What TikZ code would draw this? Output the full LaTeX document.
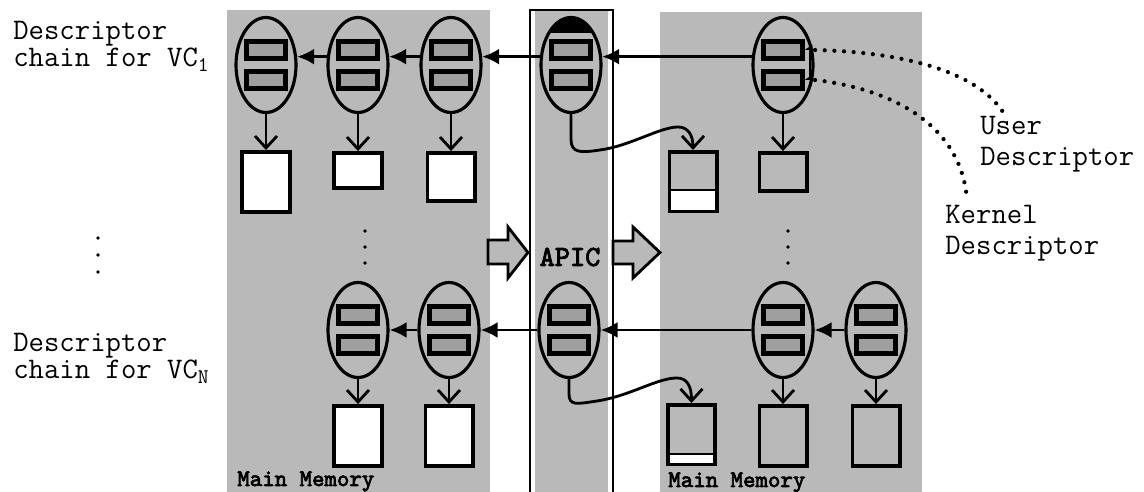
\documentclass[tikz,border=0pt]{standalone}
\usepackage{fontspec}
\newfontfamily\heavymono{lmmono10-regular.otf}[FakeBold=3]
\usetikzlibrary{shapes.geometric,arrows.meta,positioning}

\tikzset{
    panel/.style={fill=gray!55},
    desc/.style={ellipse,draw,line width=1.8pt,minimum width=1.2cm,minimum height=1.9cm,inner sep=0pt},
    slot/.style={draw,line width=2.3pt,fill=gray!75,minimum width=0.78cm,minimum height=0.34cm,inner sep=0pt},
    buf/.style={draw,line width=2pt,minimum width=0.95cm,inner sep=0pt,anchor=north},
    split/.style={path picture={
        \fill[white] (path picture bounding box.south west) rectangle ([yshift=#1]path picture bounding box.south east);
        \draw[line width=1pt] ([yshift=#1]path picture bounding box.south west) -- ([yshift=#1]path picture bounding box.south east);}},
    nextarr/.style={line width=1.6pt,-{Latex[length=3.4mm,width=3.2mm]}},
    drop/.style={line width=1.6pt,-{Straight Barb[length=2.4mm,width=4.4mm,line width=1.6pt]}},
    note/.style={line width=2.4pt,line cap=round,dash pattern=on 0pt off 5.5pt},
    blk/.style={draw,line width=1.6pt,fill=gray!55,line join=miter},
    lbl/.style={font=\ttfamily\fontsize{17}{15.5}\selectfont,align=left,inner sep=0pt,anchor=north west},
    mem/.style={font=\heavymono\fontsize{13.5}{13.5}\selectfont,inner sep=0pt,anchor=base west},
}

\begin{document}
\begin{tikzpicture}[x=0.02cm,y=-0.02cm]
    \useasboundingbox (0,0) rectangle (1144,492);

    % memories and the APIC column
    \fill[panel] (227,10) rectangle (490,492);
    \fill[panel] (660,12) rectangle (922,492);
    \fill[panel] (535,10) rectangle (608,492);
    \draw[line width=1.6pt] (530,495) -- (530,10) -- (613,10) -- (613,495);

    % block arrows into and out of the APIC
    \filldraw[blk] (488,240) -- (508,240) -- (508,227) -- (528,252.5)
        -- (508,278) -- (508,264) -- (488,264) -- cycle;
    \filldraw[blk] (613,241) -- (633,241) -- (633,227) -- (660,252.5)
        -- (633,278) -- (633,264) -- (613,264) -- cycle;
    \node[font=\heavymono\fontsize{16.5}{16.5}\selectfont,inner sep=0pt] (apic) at (570,257) {APIC};

    % descriptors
    \foreach \n/\x in {a1/266,a2/358,a3/451,ap/571,b1/783}{
        \node[desc] (\n) at (\x,65) {};
        \node[slot] (\n-u) at ([yshift=0.3cm]\n.center) {};
        \node[slot] (\n-l) at ([yshift=-0.3cm]\n.center) {};
    }
    \foreach \n/\x in {c1/358,c2/449,aq/569,d1/783,d2/876}{
        \node[desc] (\n) at (\x,330) {};
        \node[slot] (\n-u) at ([yshift=0.3cm]\n.center) {};
        \node[slot] (\n-l) at ([yshift=-0.3cm]\n.center) {};
    }
    \begin{scope}
        \clip (ap.center) ellipse [x radius=0.6cm,y radius=0.95cm];
        \fill ([xshift=-0.6cm]ap.north) rectangle ([xshift=0.6cm,yshift=-0.34cm]ap.north);
    \end{scope}

    % buffers
    \node[buf,fill=white,minimum height=1.2cm,below=0.72cm of a1] (a1b) {};
    \node[buf,fill=white,minimum height=0.7cm,below=0.74cm of a2] (a2b) {};
    \node[buf,fill=white,minimum height=0.96cm,below=0.74cm of a3] (a3b) {};
    \node[buf,fill=gray!55,minimum height=0.76cm,below=0.74cm of b1] (b1b) {};
    \node[buf,fill=gray!55,minimum height=1.2cm,split=0.44cm] (r1) at (693,150) {};
    \node[buf,fill=white,minimum height=1.2cm,below=0.5cm of c1] (c1b) {};
    \node[buf,fill=white,minimum height=1.2cm,below=0.5cm of c2] (c2b) {};
    \node[buf,fill=gray!55,minimum height=1.2cm,below=0.5cm of d1] (d1b) {};
    \node[buf,fill=gray!55,minimum height=1.2cm,below=0.5cm of d2] (d2b) {};
    \node[buf,fill=gray!55,minimum height=1.2cm,split=0.22cm] (r3) at (691.5,403) {};

    % chains
    \draw[nextarr] (b1.165) -- (ap.15);
    \draw[nextarr] (ap.165) -- (a3.15);
    \draw[nextarr] (a3.165) -- (a2.15);
    \draw[nextarr] (a2.165) -- (a1.15);
    \draw[nextarr] (d2.west) -- (d1.east);
    \draw[nextarr] (d1.west) -- (aq.east);
    \draw[nextarr] (aq.west) -- (c2.east);
    \draw[nextarr] (c2.west) -- (c1.east);

    \foreach \n in {a1,a2,a3,b1,c1,c2,d1,d2}
        \draw[drop] (\n) -- (\n b);
    \draw[drop] (ap.south) -- ++(0,25) .. controls +(0,14) and (580,153) .. (600,150)
        .. controls (630,146) and (660,127) .. (678,127)
        .. controls (688,127) and (693,135) .. (r1.north);
    \draw[drop] (aq.south) -- ++(0,15) .. controls +(0,12) and (577,404) .. (597,401)
        .. controls (630,396) and (657,378) .. (677,378)
        .. controls (687,378) and (691.5,386) .. (r3.north);

    % user and kernel descriptor marks
    \draw[line width=1.2pt] ([xshift=3pt]b1-u.east) -- ([xshift=3pt]b1-l.east);
    \fill ([xshift=4.5pt]b1-u.east) -- ++(-4.5pt,0) -- ++(4.5pt,3pt) -- cycle;
    \fill ([xshift=4.5pt]b1-l.east) -- ++(-4.5pt,0) -- ++(4.5pt,3pt) -- cycle;
    \coordinate (uend) at (1003,112);
    \coordinate (kend) at (967,200);
    \draw[note] ([xshift=6pt]b1-u.east) .. controls (900,52) and (975,70) .. (uend);
    \draw[note] ([xshift=6pt]b1-l.east) .. controls (900,90) and (962,130) .. (kend);

    % dots
    \foreach \y in {231,247,263}{
        \fill (365,\y) circle (1.1pt);
        \fill (788,\y) circle (1.1pt);
    }
    \foreach \y in {238,255,272}
        \fill (98,\y) circle (1.1pt);

    % labels
    \node[lbl] (vc1) at (13,21) {Descriptor\\chain for VC\textsubscript{1}};
    \node[lbl] (vcn) at (13,333) {Descriptor\\chain for VC\textsubscript{N}};
    \node[lbl,font=\ttfamily\fontsize{17}{17.5}\selectfont] (user) at (980,116) {User\\Descriptor};
    \node[lbl,font=\ttfamily\fontsize{17}{17.5}\selectfont] (kern) at (945,205) {Kernel\\Descriptor};
    \node[mem] (mm1) at (237,486) {Main Memory};
    \node[mem] (mm2) at (668,487) {Main Memory};
\end{tikzpicture}
\end{document}
